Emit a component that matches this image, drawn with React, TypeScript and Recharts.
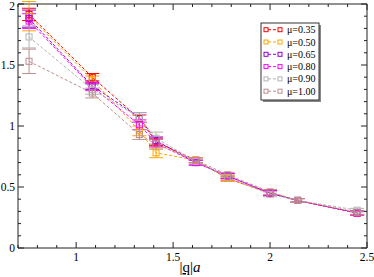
import { LineChart, Line, XAxis, YAxis, ErrorBar, ReferenceArea } from "recharts";

// |q|a positions
const Q = [0.757, 1.083, 1.326, 1.412, 1.617, 1.781, 2.0, 2.142, 2.449];

const MU = ["0.35", "0.50", "0.65", "0.80", "0.90", "1.00"];
const COLORS = ["#ff0000", "#ffa500", "#9400d3", "#ff00ff", "#b4b4b4", "#bc8f8f"];

const V035 = [1.915, 1.4, 1.06, 0.87, 0.72, 0.57, 0.45, 0.39, 0.285];
const V050 = [1.9, 1.38, 0.96, 0.78, 0.72, 0.57, 0.45, 0.39, 0.29];
const V065 = [1.88, 1.33, 1.07, 0.88, 0.7, 0.59, 0.45, 0.39, 0.29];
const V080 = [1.86, 1.32, 1.01, 0.86, 0.7, 0.59, 0.45, 0.39, 0.285];
const V090 = [1.73, 1.3, 1.07, 0.9, 0.71, 0.58, 0.44, 0.39, 0.31];
const V100 = [1.53, 1.27, 0.93, 0.85, 0.72, 0.6, 0.46, 0.39, 0.29];

const E035 = [0.05, 0.03, 0.03, 0.03, 0.02, 0.02, 0.02, 0.015, 0.015];
const E050 = [0.12, 0.03, 0.04, 0.04, 0.02, 0.02, 0.02, 0.015, 0.015];
const E065 = [0.07, 0.03, 0.04, 0.03, 0.02, 0.02, 0.02, 0.015, 0.015];
const E080 = [0.06, 0.03, 0.04, 0.03, 0.02, 0.02, 0.02, 0.015, 0.015];
const E090 = [0.09, 0.04, 0.04, 0.05, 0.02, 0.02, 0.02, 0.015, 0.015];
const E100 = [0.1, 0.04, 0.04, 0.04, 0.02, 0.02, 0.02, 0.015, 0.015];

const VALUES = [V035, V050, V065, V080, V090, V100];
const ERRORS = [E035, E050, E065, E080, E090, E100];

const X_TICKS = [0.7, 0.8, 0.9, 1, 1.1, 1.2, 1.3, 1.4, 1.5, 1.6, 1.7, 1.8, 1.9, 2, 2.1, 2.2, 2.3, 2.4, 2.5];
const X_LABELS = [1, 1.5, 2, 2.5];
const Y_TICKS = [0, 0.1, 0.2, 0.3, 0.4, 0.5, 0.6, 0.7, 0.8, 0.9, 1, 1.1, 1.2, 1.3, 1.4, 1.5, 1.6, 1.7, 1.8, 1.9, 2];
const Y_LABELS = [0, 0.5, 1, 1.5, 2];

const data = Q.map((q, i) => {
  const row: Record<string, number> = { q };
  VALUES.forEach((v, s) => {
    row["v" + s] = v[i];
    row["e" + s] = ERRORS[s][i];
  });
  return row;
});

const W = 374;
const H = 277;
const PLOT_TOP = 4;
const PLOT_RIGHT = 367;
const FONT = "'Liberation Serif', 'DejaVu Serif', serif";

const isMajor = (v: number, list: number[]) => list.some(m => Math.abs(m - v) < 1e-6);

function XTick(props: any) {
  const { x, y, payload } = props;
  const major = isMajor(payload.value, X_LABELS);
  const len = major ? 6 : 3;
  return (
    <g>
      <line x1={x} x2={x} y1={y} y2={y - len} stroke="#222" />
      <line x1={x} x2={x} y1={PLOT_TOP} y2={PLOT_TOP + len} stroke="#222" />
      {major && (
        <text x={x} y={y + 13} textAnchor="middle" fontSize={11.5} fontFamily={FONT} fill="#000">
          {String(payload.value)}
        </text>
      )}
    </g>
  );
}

function YTick(props: any) {
  const { x, y, payload } = props;
  const major = isMajor(payload.value, Y_LABELS);
  const len = major ? 6 : 3;
  return (
    <g>
      <line x1={x} x2={x + len} y1={y} y2={y} stroke="#222" />
      <line x1={PLOT_RIGHT} x2={PLOT_RIGHT - len} y1={y} y2={y} stroke="#222" />
      {major && (
        <text x={x - 3} y={Math.max(y + 4, 9.5)} textAnchor="end" fontSize={11.5} fontFamily={FONT} fill="#000">
          {String(payload.value)}
        </text>
      )}
    </g>
  );
}

const squareDot = (color: string) => (p: any) => (
  <rect key={p.index} x={p.cx - 3} y={p.cy - 3} width={6} height={6} fill="none" stroke={color} strokeWidth={1} />
);

export default function App() {
  return (
    <div style={{ position: "absolute", left: 0, top: 0, width: W, height: H, background: "#fff" }}>
      <LineChart width={W} height={H} data={data} margin={{ top: PLOT_TOP, right: W - PLOT_RIGHT, left: 0, bottom: 0 }}>
        <XAxis
          dataKey="q"
          type="number"
          domain={[0.7, 2.5]}
          ticks={X_TICKS}
          interval={0}
          height={29}
          tickSize={0}
          tickMargin={0}
          axisLine={false}
          tick={<XTick />}
          allowDataOverflow
        />
        <YAxis
          type="number"
          domain={[0, 2]}
          ticks={Y_TICKS}
          interval={0}
          width={18}
          tickSize={0}
          tickMargin={0}
          axisLine={false}
          tick={<YTick />}
          allowDataOverflow
        />
        <ReferenceArea x1={0.7} x2={2.5} y1={0} y2={2} fill="none" stroke="#222" strokeWidth={1} ifOverflow="visible" />
        {VALUES.map((_, s) => (
          <Line
            key={s}
            dataKey={"v" + s}
            type="linear"
            stroke={COLORS[s]}
            strokeWidth={1}
            strokeDasharray="3 2"
            dot={squareDot(COLORS[s])}
            activeDot={false}
            isAnimationActive={false}
          >
            <ErrorBar dataKey={"e" + s} width={7} stroke={COLORS[s]} strokeWidth={1} direction="y" />
          </Line>
        ))}
      </LineChart>
      <svg width={W} height={H} style={{ position: "absolute", left: 0, top: 0, pointerEvents: "none" }}>
        <text x={190} y={272} textAnchor="middle" fontSize={15} fontFamily={FONT} fill="#000">
          |<tspan textDecoration="underline">q</tspan>|<tspan fontStyle="italic">a</tspan>
        </text>
        <rect x={263} y={25} width={58} height={77} fill="#888" />
        <rect x={261} y={23} width={58} height={77} fill="#fff" stroke="#333" strokeWidth={1} />
        {MU.map((m, s) => {
          const cy = 29.7 + s * 12.3;
          return (
            <g key={m}>
              <line x1={268} x2={278} y1={cy} y2={cy} stroke={COLORS[s]} strokeDasharray="3 2" />
              <rect x={264} y={cy - 2} width={4} height={4} fill="#fff" stroke={COLORS[s]} />
              <rect x={278} y={cy - 2} width={4} height={4} fill="#fff" stroke={COLORS[s]} />
              <text x={287} y={cy + 3.5} fontSize={10} fontFamily={FONT} fill="#000">
                {"μ=" + m}
              </text>
            </g>
          );
        })}
      </svg>
    </div>
  );
}
